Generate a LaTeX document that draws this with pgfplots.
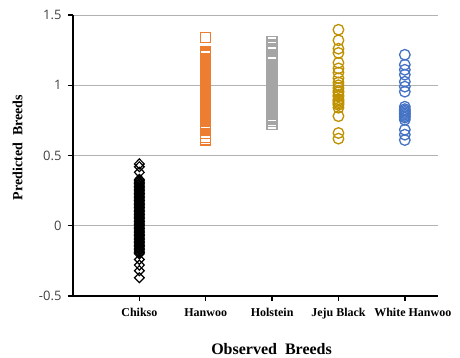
\documentclass[border=0pt]{standalone}
\usepackage{fontspec}
\setmainfont{Liberation Serif}
\newfontfamily\ticksfont{Open Sans}
\usepackage{pgfplots}
\pgfplotsset{compat=1.18}
\definecolor{hw}{HTML}{ED7D31}
\definecolor{hs}{HTML}{A5A5A5}
\definecolor{jb}{HTML}{BF9000}
\definecolor{wh}{HTML}{4472C4}
\definecolor{tk}{HTML}{404040}
\begin{document}
\begin{tikzpicture}
\useasboundingbox (0,0) rectangle (460pt,358pt);
\begin{axis}[
  at={(73pt,62pt)}, anchor=south west,
  scale only axis, width=365pt, height=281pt,
  xmin=0, xmax=5.5, ymin=-0.5, ymax=1.5,
  axis lines*=left,
  axis line style={-, black, line width=1.6pt},
  xtick={1,2,3,4,5},
  xticklabels={Chikso,Hanwoo,Holstein,Jeju Black,\hspace*{16pt}White Hanwoo},
  ytick={-0.5,0,0.5,1,1.5},
  yticklabels={-0.5,0,0.5,1,1.5},
  ymajorgrids,
  grid style={color=black!30, line width=0.9pt},
  tick align=outside,
  major tick length=5pt,
  tick style={black, line width=1.4pt},
  yticklabel style={font=\ticksfont\fontsize{13}{15}\selectfont, color=tk, xshift=-3pt},
  xticklabel style={font=\bfseries\fontsize{12}{14}\selectfont, yshift=-4pt},
  xlabel={Observed\ \ Breeds},
  ylabel={Predicted\ \ Breeds},
  xlabel style={font=\bfseries\fontsize{16}{18}\selectfont, at={(axis description cs:0.544,-0.19)}, anchor=center},
  ylabel style={font=\bfseries\fontsize{14}{16}\selectfont, at={(axis description cs:-0.152,0.528)}, anchor=center},
]
\addplot[only marks, mark=diamond, black, mark size=5pt, mark options={xscale=1.3, line width=1.2pt}] coordinates {
(1,0.44)(1,0.42)(1,0.38)
(1,0.33)(1,0.32)(1,0.31)(1,0.30)(1,0.29)(1,0.28)(1,0.27)(1,0.26)(1,0.25)(1,0.24)(1,0.23)(1,0.22)(1,0.21)(1,0.20)
(1,0.19)(1,0.18)(1,0.17)(1,0.16)(1,0.15)(1,0.14)(1,0.13)(1,0.12)(1,0.11)(1,0.10)(1,0.09)(1,0.08)(1,0.07)(1,0.06)
(1,0.05)(1,0.04)(1,0.03)(1,0.02)(1,0.01)(1,0.00)(1,-0.01)(1,-0.02)(1,-0.03)(1,-0.04)(1,-0.05)(1,-0.06)(1,-0.07)
(1,-0.08)(1,-0.09)(1,-0.10)(1,-0.11)(1,-0.12)(1,-0.13)(1,-0.14)(1,-0.15)(1,-0.16)(1,-0.17)(1,-0.18)(1,-0.19)(1,-0.20)
(1,-0.24)(1,-0.28)(1,-0.32)(1,-0.37)
};
\addplot[only marks, mark=square, hw, mark size=5pt, mark options={line width=1.3pt}] coordinates {
(2,1.34)
(2,1.24)(2,1.23)(2,1.22)(2,1.21)(2,1.19)(2,1.18)(2,1.17)(2,1.16)(2,1.15)(2,1.14)(2,1.13)
(2,1.11)(2,1.10)(2,1.09)(2,1.08)(2,1.07)(2,1.06)(2,1.05)(2,1.04)(2,1.03)(2,1.02)(2,1.01)(2,1.00)
(2,0.99)(2,0.98)(2,0.97)(2,0.96)(2,0.95)(2,0.94)(2,0.93)(2,0.92)(2,0.91)(2,0.90)(2,0.89)(2,0.88)
(2,0.87)(2,0.86)(2,0.85)(2,0.84)(2,0.83)(2,0.82)(2,0.81)(2,0.80)(2,0.79)(2,0.78)(2,0.77)(2,0.76)
(2,0.75)(2,0.74)(2,0.73)(2,0.72)(2,0.71)(2,0.70)(2,0.69)(2,0.68)(2,0.655)(2,0.63)(2,0.61)
};
\addplot[only marks, mark=square, hs, mark size=5pt, mark options={line width=1.3pt}] coordinates {
(3,1.31)(3,1.29)(3,1.28)(3,1.26)(3,1.25)(3,1.24)(3,1.21)(3,1.20)(3,1.19)(3,1.18)(3,1.17)(3,1.15)
(3,1.14)(3,1.13)(3,1.12)(3,1.10)(3,1.09)(3,1.08)(3,1.07)(3,1.06)(3,1.05)(3,1.04)(3,1.03)(3,1.02)
(3,1.00)(3,0.99)(3,0.98)(3,0.97)(3,0.96)(3,0.95)(3,0.94)(3,0.93)(3,0.92)(3,0.91)(3,0.90)(3,0.89)
(3,0.88)(3,0.87)(3,0.86)(3,0.85)(3,0.84)(3,0.82)(3,0.81)(3,0.80)(3,0.78)(3,0.77)(3,0.76)(3,0.74)(3,0.72)
};
\addplot[only marks, mark=o, jb, mark size=5.3pt, mark options={line width=1.3pt}] coordinates {
(4,1.395)(4,1.32)(4,1.26)(4,1.23)(4,1.16)(4,1.12)(4,1.09)(4,1.05)(4,1.02)(4,1.00)(4,0.98)(4,0.96)
(4,0.95)(4,0.93)(4,0.92)(4,0.90)(4,0.89)(4,0.88)(4,0.87)(4,0.86)(4,0.84)(4,0.78)(4,0.66)(4,0.62)
};
\addplot[only marks, mark=o, wh, mark size=5.3pt, mark options={line width=1.3pt}] coordinates {
(5,1.217)(5,1.146)(5,1.11)(5,1.075)(5,1.025)(5,0.99)(5,0.954)(5,0.847)(5,0.83)(5,0.82)(5,0.81)
(5,0.80)(5,0.79)(5,0.78)(5,0.77)(5,0.754)(5,0.683)(5,0.648)(5,0.61)
};
\end{axis}
\end{tikzpicture}
\end{document}
